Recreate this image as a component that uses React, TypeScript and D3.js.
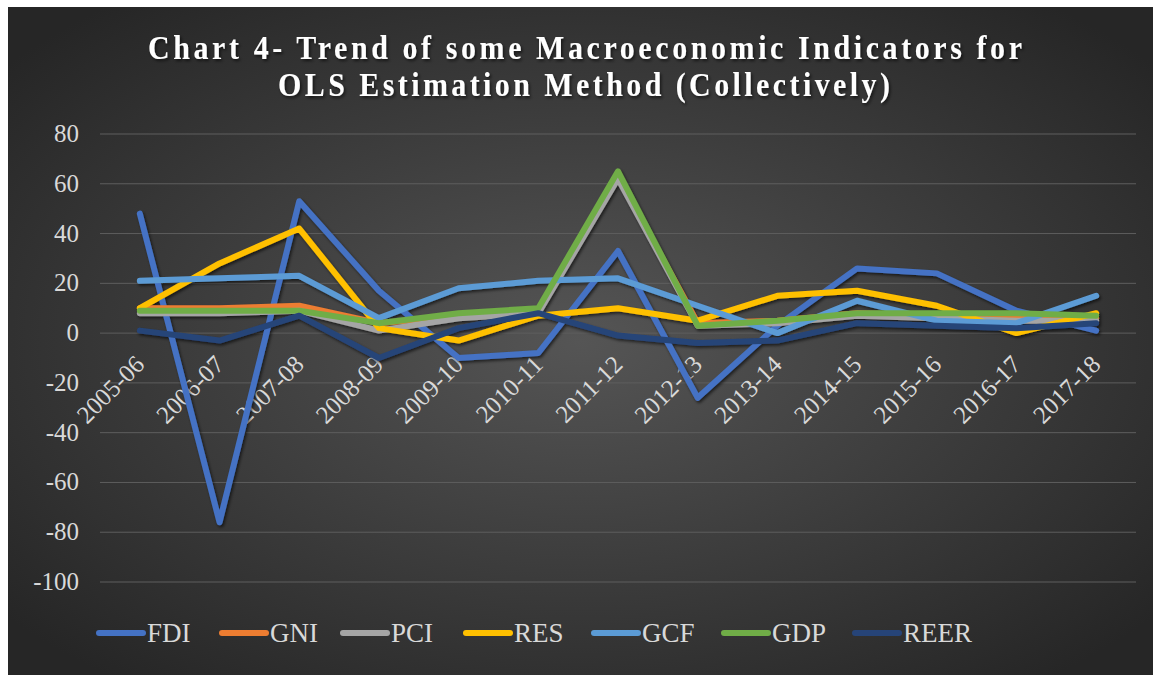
import React from "react";
import * as d3 from "d3";

const categories = ["2005-06","2006-07","2007-08","2008-09","2009-10","2010-11","2011-12","2012-13","2013-14","2014-15","2015-16","2016-17","2017-18"];
const FDI = [48, -76, 53, 17, -10, -8, 33, -26, 3, 26, 24, 9, 1];
const GNI = [10, 10, 11, 4, 7, 9, 63, 4, 5, 8, 7, 6, 6];
const PCI = [8, 8, 9, 1, 6, 8, 62, 3, 4, 7, 6, 5, 5];
const RES = [10, 28, 42, 2, -3, 7, 10, 5, 15, 17, 11, 0, 8];
const GCF = [21, 22, 23, 6, 18, 21, 22, 11, 0, 13, 5, 4, 15];
const GDP = [9, 9, 9, 4, 8, 10, 65, 3, 5, 8, 8, 8, 7];
const REER = [1, -3, 7, -10, 2, 8, -1, -4, -3, 4, 3, 2, 4];
const yTicks = [80, 60, 40, 20, 0, -20, -40, -60, -80, -100];

const seriesNames = ["FDI", "GNI", "PCI", "RES", "GCF", "GDP", "REER"];
const seriesValues = [FDI, GNI, PCI, RES, GCF, GDP, REER];
const seriesColors = ["#4472C4", "#ED7D31", "#A5A5A5", "#FFC000", "#5B9BD5", "#70AD47", "#264478"];
const legendX = [99, 222, 343, 466, 594, 724, 855];

const W = 1153, H = 675;
const plotLeft = 100, plotRight = 1136;

export default function App() {
  const x = d3.scalePoint<string>().domain(categories).range([plotLeft, plotRight]).padding(0.5);
  const y = d3.scaleLinear().domain([-100, 80]).range([582, 134]);
  const line = d3.line<number>().x((_, i) => x(categories[i]) as number).y((v) => y(v));
  const font = "'Liberation Serif', 'Times New Roman', serif";
  return (
    <svg width={W} height={H} style={{ position: "absolute", left: 0, top: 0 }}>
      <defs>
        <radialGradient id="bg" cx="50%" cy="50%" r="65%">
          <stop offset="0%" stopColor="#555555" />
          <stop offset="100%" stopColor="#262626" />
        </radialGradient>
        <filter id="sh" x="-10%" y="-10%" width="120%" height="120%">
          <feDropShadow dx="1.5" dy="2" stdDeviation="1.5" floodColor="#000" floodOpacity="0.6" />
        </filter>
      </defs>
      <rect x={8} y={7} width={W - 8} height={H - 7} fill="url(#bg)" />
      <g fontFamily={font} fill="#ffffff" fontWeight="bold" textAnchor="middle" filter="url(#sh)">
        <g transform="translate(585 59) scale(1 1.15)">
          <text x={0} y={0} fontSize={30} textLength={874} lengthAdjust="spacing">Chart 4- Trend of some Macroeconomic Indicators for</text>
        </g>
        <g transform="translate(584 96) scale(1 1.15)">
          <text x={0} y={0} fontSize={30} textLength={612} lengthAdjust="spacing">OLS Estimation Method (Collectively)</text>
        </g>
      </g>
      <g>
        {yTicks.map((t) => (
          <line key={t} x1={plotLeft} x2={plotRight} y1={y(t)} y2={y(t)} stroke="#5e5e5e" strokeWidth={1} />
        ))}
      </g>
      <g fontFamily={font} fontSize={25} fill="#d9d9d9" textAnchor="end">
        {yTicks.map((t) => (
          <text key={t} x={79} y={y(t) + 8}>{t}</text>
        ))}
      </g>
      <g fontFamily={font} fontSize={25} fill="#d9d9d9" textAnchor="end">
        {categories.map((c) => {
          const cx = (x(c) as number) + 6;
          const cy = 366;
          return (
            <text key={c} x={cx} y={cy} transform={`rotate(-45 ${cx} ${cy})`}>{c}</text>
          );
        })}
      </g>
      <g filter="url(#sh)">
        {seriesValues.map((vals, i) => (
          <path key={seriesNames[i]} d={line(vals) || ""} fill="none" stroke={seriesColors[i]} strokeWidth={6} strokeLinejoin="round" strokeLinecap="round" />
        ))}
      </g>
      <g fontFamily={font} fontSize={27} fill="#d9d9d9">
        {seriesNames.map((n, i) => (
          <g key={n}>
            <line x1={legendX[i]} x2={legendX[i] + 44} y1={633} y2={633} stroke={seriesColors[i]} strokeWidth={6} strokeLinecap="round" />
            <text x={legendX[i] + 48} y={642}>{n}</text>
          </g>
        ))}
      </g>
    </svg>
  );
}
